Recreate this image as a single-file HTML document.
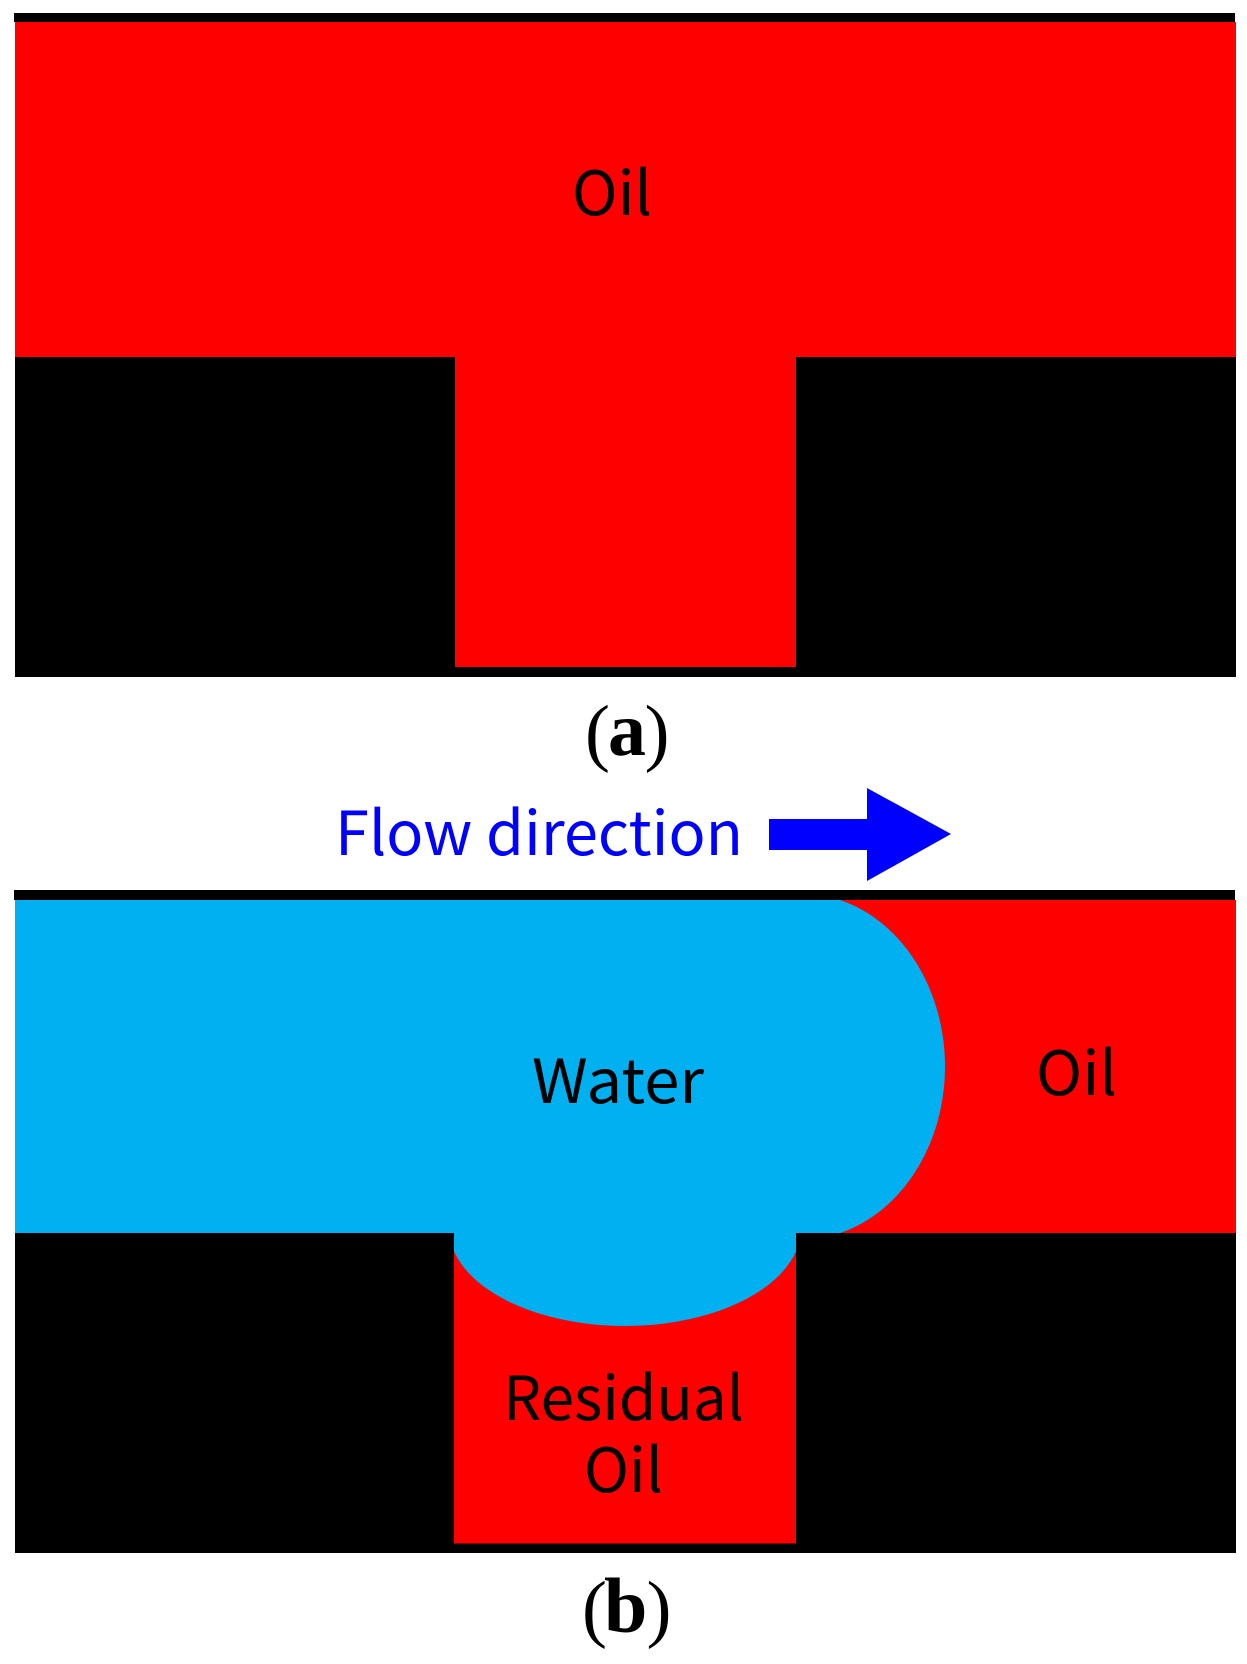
<!DOCTYPE html>
<html><head><meta charset="utf-8"><style>
html,body{margin:0;padding:0;background:#fff}
svg{display:block}
.s{font-family:"Noto Sans CJK SC","Liberation Sans",sans-serif;font-size:61px;fill:#000}
.c{font-family:"Liberation Serif",serif;font-size:75px;fill:#000}
.k{font-weight:bold}
</style></head><body>
<svg width="1247" height="1664" viewBox="0 0 1247 1664" xmlns="http://www.w3.org/2000/svg">
<defs>
<clipPath id="front"><rect x="700" y="900" width="400" height="333"/></clipPath>
<clipPath id="drop"><rect x="454" y="1200" width="342" height="200"/></clipPath>
</defs>
<rect width="1247" height="1664" fill="#fff"/>
<!-- panel a -->
<rect x="15" y="357" width="1221" height="320" fill="#000"/>
<rect x="15" y="22" width="1221" height="335" fill="#f00"/>
<rect x="455" y="357" width="341" height="310" fill="#f00"/>
<rect x="14" y="13" width="1221" height="9" fill="#000"/>
<text class="s" x="572" y="215" textLength="80" lengthAdjust="spacingAndGlyphs">Oil</text>
<text class="c" x="585" y="757">(</text>
<text class="c k" x="608" y="755" style="font-size:76px">a</text>
<text class="c" x="644.500" y="757">)</text>
<!-- arrow -->
<text class="s" x="335" y="855" style="fill:#00f" textLength="408" lengthAdjust="spacingAndGlyphs">Flow direction</text>
<polygon points="769,819 867,819 867,788 951,834 867,881 867,850 769,850" fill="#00f"/>
<!-- panel b -->
<rect x="15" y="1233" width="1221" height="320" fill="#000"/>
<rect x="15" y="900" width="1221" height="333" fill="#f00"/>
<rect x="454" y="1233" width="342" height="310.500" fill="#f00"/>
<ellipse cx="801" cy="1066.500" rx="144" ry="173" fill="#00B0F0" clip-path="url(#front)"/>
<rect x="15" y="900" width="826" height="333" fill="#00B0F0"/>
<ellipse cx="625" cy="1228" rx="176" ry="98" fill="#00B0F0" clip-path="url(#drop)"/>
<rect x="14" y="890" width="1221" height="10" fill="#000"/>
<text class="s" x="532" y="1103" textLength="172" lengthAdjust="spacingAndGlyphs">Water</text>
<text class="s" x="1036" y="1095" textLength="81" lengthAdjust="spacingAndGlyphs">Oil</text>
<text class="s" x="503" y="1420" textLength="241" lengthAdjust="spacingAndGlyphs">Residual</text>
<text class="s" x="584" y="1492" textLength="79" lengthAdjust="spacingAndGlyphs">Oil</text>
<text class="c" x="582" y="1633">(</text>
<text class="c k" x="604" y="1632" style="font-size:78px">b</text>
<text class="c" x="646.500" y="1633">)</text>
</svg>
</body></html>
